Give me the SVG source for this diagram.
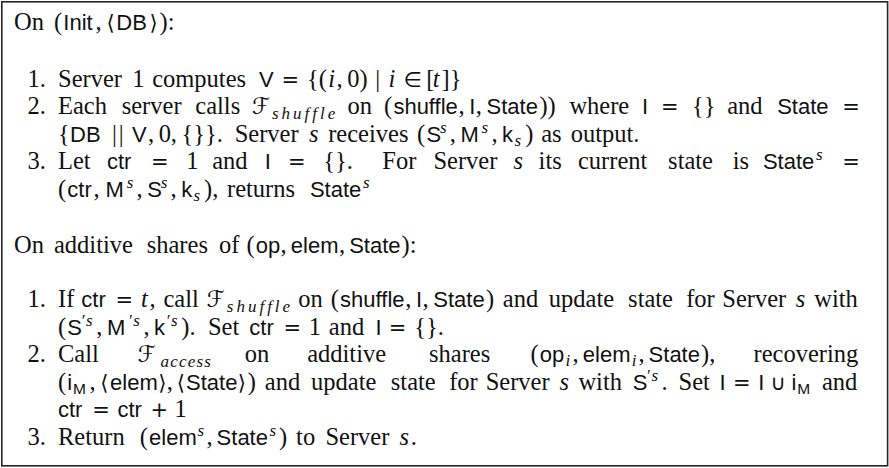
<svg xmlns="http://www.w3.org/2000/svg" width="889" height="468" viewBox="0 0 889 468">
  <style>
    text { fill: #111; }
    .t { font-family: "Liberation Serif", "Times New Roman", serif; font-size: 24.5px; }
    .i { font-style: italic; }
    .sf { font-family: "Liberation Sans", Arial, sans-serif; font-size: 22px; font-style: normal; }
    .sy { font-family: "DejaVu Sans", sans-serif; font-size: 21px; font-style: normal; }
    .cal { font-family: "DejaVu Sans", sans-serif; font-size: 23px; font-style: normal; }
    .sc { font-family: "Liberation Serif", "Times New Roman", serif; font-style: italic; font-size: 17px; }
    .ssf { font-family: "Liberation Sans", Arial, sans-serif; font-size: 15.5px; font-style: normal; }
    .frame { fill: #fff; stroke: #262626; stroke-width: 1.6; }
  </style>

  <!-- outer frame -->
  <rect class="frame" x="1.8" y="1.8" width="885.8" height="464"/>

  <!-- Init block -->
  <g id="init-heading">
    <text class="t" y="30"><tspan x="14">On</tspan><tspan x="54">(</tspan><tspan class="sf" x="63.3">Init</tspan><tspan x="95.5">,</tspan><tspan class="sy" x="106.5">⟨</tspan><tspan class="sf" x="116.3">DB</tspan><tspan class="sy" x="149.5">⟩</tspan><tspan x="159.5">):</tspan></text>
  </g>

  <g id="init-step-1">
    <text class="t" y="86.5"><tspan x="27.5">1.</tspan><tspan x="58">Server</tspan><tspan x="132.2">1</tspan><tspan x="152.2">computes</tspan><tspan class="sf" x="259">V</tspan><tspan class="sy" x="281.6">=</tspan><tspan x="307">{(</tspan><tspan class="i" x="328.3">i</tspan><tspan x="336.6">,</tspan><tspan x="347.2">0)</tspan><tspan x="375.2">|</tspan><tspan class="i" x="388.6">i</tspan><tspan class="sy" x="403.5">∈</tspan><tspan x="426.2">[</tspan><tspan class="i" x="432.8">t</tspan><tspan x="441.5">]}</tspan></text>
  </g>

  <g id="init-step-2">
    <text class="t" y="114"><tspan x="27.5">2.</tspan><tspan x="58">Each</tspan><tspan x="121.7">server</tspan><tspan x="195.3">calls</tspan><tspan class="cal" x="252.1">ℱ</tspan><tspan class="sc" x="272" y="119" letter-spacing="3">shuffle</tspan><tspan x="347.4" y="114">on</tspan><tspan x="384.1">(</tspan><tspan class="sf" x="393.4">shuffle</tspan><tspan x="458.5">,</tspan><tspan class="sf" x="469.2">I</tspan><tspan x="475.8">,</tspan><tspan class="sf" x="486.5">State</tspan><tspan x="539.4">))</tspan><tspan x="569.4">where</tspan><tspan class="sf" x="642.1">I</tspan><tspan class="sy" x="661">=</tspan><tspan x="691.9">{}</tspan><tspan x="727.2">and</tspan><tspan class="sf" x="777.2">State</tspan><tspan class="sy" x="842.3">=</tspan></text>
    <text class="t" y="141.5"><tspan x="58">{</tspan><tspan class="sf" x="70">DB</tspan><tspan x="112">|</tspan><tspan x="118.7">|</tspan><tspan class="sf" x="132">V</tspan><tspan x="148">,</tspan><tspan x="158.7">0</tspan><tspan x="170.7">,</tspan><tspan x="181.4">{}}.</tspan><tspan x="234.7">Server</tspan><tspan class="i" x="308.9">s</tspan><tspan x="328.2">receives</tspan><tspan x="417.1">(</tspan><tspan class="sf" x="426.4">S</tspan><tspan class="sc" x="439.9" y="132.5">s</tspan><tspan x="449.7" y="141.5">,</tspan><tspan class="sf" x="460.4">M</tspan><tspan class="sc" x="481.6" y="132.5">s</tspan><tspan x="491.4" y="141.5">,</tspan><tspan class="sf" x="502.1">k</tspan><tspan class="sc" x="514.6" y="145.5">s</tspan><tspan x="525.2" y="141.5">)</tspan><tspan x="541.2">as</tspan><tspan x="570.7">output.</tspan></text>
  </g>

  <g id="init-step-3">
    <text class="t" y="169"><tspan x="27.5">3.</tspan><tspan x="58">Let</tspan><tspan class="sf" x="106.9">ctr</tspan><tspan class="sy" x="151">=</tspan><tspan x="186.2">1</tspan><tspan x="212.2">and</tspan><tspan class="sf" x="264.8">I</tspan><tspan class="sy" x="288">=</tspan><tspan x="323.2">{}.</tspan><tspan x="382.3">For</tspan><tspan x="433.4">Server</tspan><tspan class="i" x="513.4">s</tspan><tspan x="538.6">its</tspan><tspan x="578">current</tspan><tspan x="668.1">state</tspan><tspan x="732.8">is</tspan><tspan class="sf" x="762.9">State</tspan><tspan class="sc" x="816" y="160">s</tspan><tspan class="sy" x="842.3" y="169">=</tspan></text>
    <text class="t" y="196.5"><tspan x="58">(</tspan><tspan class="sf" x="67.3">ctr</tspan><tspan x="93.5">,</tspan><tspan class="sf" x="105.5">M</tspan><tspan class="sc" x="126.7" y="187.5">s</tspan><tspan x="136.5" y="196.5">,</tspan><tspan class="sf" x="147.2">S</tspan><tspan class="sc" x="160.7" y="187.5">s</tspan><tspan x="170.5" y="196.5">,</tspan><tspan class="sf" x="181.2">k</tspan><tspan class="sc" x="193.6" y="200.5">s</tspan><tspan x="204" y="196.5">),</tspan><tspan x="227">returns</tspan><tspan class="sf" x="309.9">State</tspan><tspan class="sc" x="363" y="187.5">s</tspan></text>
  </g>

  <!-- Access block -->
  <g id="access-heading">
    <text class="t" y="253"><tspan x="14">On</tspan><tspan x="54">additive</tspan><tspan x="146.7">shares</tspan><tspan x="219">of</tspan><tspan x="246.4">(</tspan><tspan class="sf" x="255.7">op</tspan><tspan x="280.6">,</tspan><tspan class="sf" x="290.8">elem</tspan><tspan x="339">,</tspan><tspan class="sf" x="349.2">State</tspan><tspan x="401.6">):</tspan></text>
  </g>

  <g id="access-step-1">
    <text class="t" y="307"><tspan x="27.5">1.</tspan><tspan x="58">If</tspan><tspan class="sf" x="81.3">ctr</tspan><tspan class="sy" x="115.5">=</tspan><tspan class="i" x="140.9">t</tspan><tspan x="149.5">,</tspan><tspan x="163.5">call</tspan><tspan class="cal" x="206.8">ℱ</tspan><tspan class="sc" x="226.8" y="312" letter-spacing="3">shuffle</tspan><tspan x="298.2" y="307">on</tspan><tspan x="330.8">(</tspan><tspan class="sf" x="340.1">shuffle</tspan><tspan x="405.2">,</tspan><tspan class="sf" x="415.9">I</tspan><tspan x="422.6">,</tspan><tspan class="sf" x="433.3">State</tspan><tspan x="486.1">)</tspan><tspan x="502.8">and</tspan><tspan x="548.8">update</tspan><tspan x="628.1">state</tspan><tspan x="686.2">for</tspan><tspan x="722.3">Server</tspan><tspan class="i" x="795.8">s</tspan><tspan x="814.3">with</tspan></text>
    <text class="t" y="334.5"><tspan x="58">(</tspan><tspan class="sf" x="67.3">S</tspan><tspan class="sc" x="80.7" y="325.5">′</tspan><tspan class="sc" x="86" y="325.5">s</tspan><tspan x="96.2" y="334.5">,</tspan><tspan class="sf" x="106.9">M</tspan><tspan class="sc" x="127.9" y="325.5">′</tspan><tspan class="sc" x="133.2" y="325.5">s</tspan><tspan x="143.4" y="334.5">,</tspan><tspan class="sf" x="154">k</tspan><tspan class="sc" x="165.8" y="325.5">′</tspan><tspan class="sc" x="171" y="325.5">s</tspan><tspan x="181.3" y="334.5">).</tspan><tspan x="207.9">Set</tspan><tspan class="sf" x="249.3">ctr</tspan><tspan class="sy" x="283.5">=</tspan><tspan x="308.8">1</tspan><tspan x="328.8">and</tspan><tspan class="sf" x="375.5">I</tspan><tspan class="sy" x="388.8">=</tspan><tspan x="414.2">{}.</tspan></text>
  </g>

  <g id="access-step-2">
    <text class="t" y="362"><tspan x="27.5">2.</tspan><tspan x="58">Call</tspan><tspan class="cal" x="137.7">ℱ</tspan><tspan class="sc" x="160.5" y="367" letter-spacing="1.2">access</tspan><tspan x="244.8" y="362">on</tspan><tspan x="307.2">additive</tspan><tspan x="429">shares</tspan><tspan x="530.4">(</tspan><tspan class="sf" x="539.7">op</tspan><tspan class="sc" x="565.6" y="366">i</tspan><tspan x="572.6" y="362">,</tspan><tspan class="sf" x="582.8">elem</tspan><tspan class="sc" x="631.8" y="366">i</tspan><tspan x="638.6" y="362">,</tspan><tspan class="sf" x="648.6">State</tspan><tspan x="701">),</tspan><tspan x="753.5">recovering</tspan></text>
    <text class="t" y="389.5"><tspan x="58">(</tspan><tspan class="sf" x="67.3">i</tspan><tspan class="ssf" x="73.1" y="393.5">M</tspan><tspan x="89.6" y="389.5">,</tspan><tspan class="sy" x="100.3">⟨</tspan><tspan class="sf" x="110.1">elem</tspan><tspan class="sy" x="158.2">⟩</tspan><tspan x="166.8">,</tspan><tspan class="sy" x="176.8">⟨</tspan><tspan class="sf" x="186">State</tspan><tspan class="sy" x="237.8">⟩</tspan><tspan x="247.8">)</tspan><tspan x="264.8">and</tspan><tspan x="311.1">update</tspan><tspan x="390.8">state</tspan><tspan x="449.2">for</tspan><tspan x="485.7">Server</tspan><tspan class="i" x="559.5">s</tspan><tspan x="578.4">with</tspan><tspan class="sf" x="632.7">S</tspan><tspan class="sc" x="646.1" y="380.5">′</tspan><tspan class="sc" x="651.4" y="380.5">s</tspan><tspan x="661.6" y="389.5">.</tspan><tspan x="678.6">Set</tspan><tspan class="sf" x="719.6">I</tspan><tspan class="sy" x="732.9">=</tspan><tspan class="sf" x="758.2">I</tspan><tspan class="sy" x="770.2">∪</tspan><tspan class="sf" x="791.6">i</tspan><tspan class="ssf" x="797.3" y="393.5">M</tspan><tspan x="822" y="389.5">and</tspan></text>
    <text class="t" y="417"><tspan class="sf" x="58">ctr</tspan><tspan class="sy" x="92.2">=</tspan><tspan class="sf" x="117.5">ctr</tspan><tspan class="sy" x="150.4">+</tspan><tspan x="174.4">1</tspan></text>
  </g>

  <g id="access-step-3">
    <text class="t" y="444.5"><tspan x="27.5">3.</tspan><tspan x="58">Return</tspan><tspan x="139.8">(</tspan><tspan class="sf" x="149.1">elem</tspan><tspan class="sc" x="197.6" y="435.5">s</tspan><tspan x="206.6" y="444.5">,</tspan><tspan class="sf" x="216.6">State</tspan><tspan class="sc" x="269.4" y="435.5">s</tspan><tspan x="279" y="444.5">)</tspan><tspan x="296.1">to</tspan><tspan x="325.4">Server</tspan><tspan class="i" x="399.6">s</tspan><tspan x="410.8">.</tspan></text>
  </g>
</svg>
